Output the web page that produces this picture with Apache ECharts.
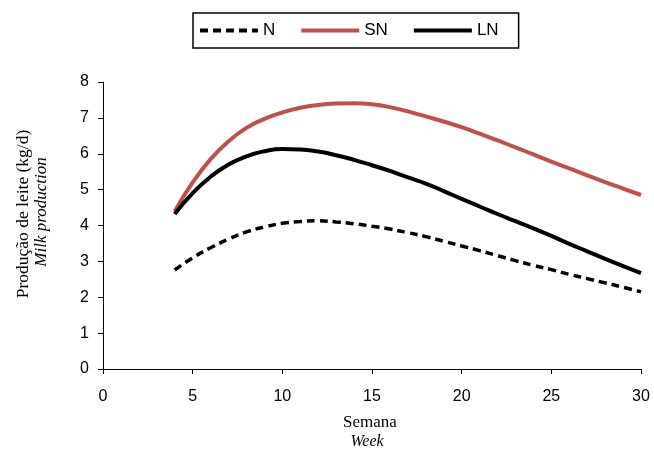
<!DOCTYPE html>
<html><head><meta charset="utf-8">
<script src="https://cdn.jsdelivr.net/npm/echarts@6/dist/echarts.min.js"></script>
<style>html,body{margin:0;padding:0;background:#fff}#c{width:654px;height:449px}</style>
</head><body><div id="c"></div>
<script>
var weeks = [4,5,6,7,8,9,10,11,12,13,14,15,16,17,18,19,20,21,22,23,24,25,26,27,28,29,30];
var nValues  = [2.76,3.1,3.38,3.62,3.82,3.96,4.06,4.11,4.13,4.1,4.05,3.98,3.9,3.8,3.69,3.56,3.43,3.3,3.16,3.02,2.89,2.77,2.64,2.52,2.4,2.28,2.15];
var snValues = [4.4,5.2,5.85,6.35,6.72,6.97,7.15,7.28,7.36,7.4,7.41,7.38,7.3,7.18,7.04,6.9,6.74,6.56,6.37,6.18,5.98,5.78,5.59,5.4,5.21,5.03,4.85];
var lnValues = [4.32,4.9,5.36,5.7,5.93,6.07,6.13,6.12,6.06,5.96,5.83,5.68,5.52,5.34,5.17,4.96,4.74,4.53,4.32,4.12,3.92,3.71,3.49,3.28,3.07,2.87,2.67];
var seriesNames = ['N','SN','LN'];
var xTicks = [0,5,10,15,20,25,30];
var yTicks = [0,1,2,3,4,5,6,7,8];

function pairs(v){ return weeks.map(function(w,i){ return [w, v[i]]; }); }

var chart = echarts.init(document.getElementById('c'));
var sansFont = '"Liberation Sans", Arial, sans-serif';
var serifFont = '"Liberation Serif", "Times New Roman", serif';
chart.setOption({
  animation: false,
  backgroundColor: '#fff',
  grid: { left: 103, right: 13, top: 82, bottom: 80 },
  legend: {
    data: seriesNames,
    top: 13, left: 193,
    itemWidth: 58, itemHeight: 12, itemGap: 24,
    borderColor: '#000', borderWidth: 1.5, borderRadius: 0,
    padding: [9, 20, 9, 5],
    itemStyle: { opacity: 0 },
    lineStyle: { width: 4 },
    textStyle: { fontFamily: sansFont, fontSize: 17, color: '#000' }
  },
  xAxis: {
    type: 'value', min: 0, max: 30, interval: 5,
    axisLine: { lineStyle: { color: '#000', width: 1 } },
    axisTick: { show: true, length: 5, lineStyle: { color: '#000' } },
    axisLabel: { fontFamily: sansFont, fontSize: 16, color: '#000', margin: 20 },
    splitLine: { show: false }
  },
  yAxis: {
    type: 'value', min: 0, max: 8, interval: 1,
    axisLine: { show: true, lineStyle: { color: '#000', width: 1 } },
    axisTick: { show: true, length: 5, lineStyle: { color: '#000' } },
    axisLabel: { fontFamily: sansFont, fontSize: 16, color: '#000', margin: 14 },
    splitLine: { show: false }
  },
  graphic: [
    { type: 'text', x: 23, y: 214, rotation: Math.PI/2, style: { text: 'Produção de leite (kg/d)', font: '17.5px ' + serifFont, fill: '#000', align: 'center', verticalAlign: 'middle' } },
    { type: 'text', x: 42, y: 212, rotation: Math.PI/2, style: { text: 'Milk production', font: 'italic 17px ' + serifFont, fill: '#000', align: 'center', verticalAlign: 'middle' } },
    { type: 'text', x: 370, y: 423, style: { text: 'Semana', font: '17px ' + serifFont, fill: '#000', align: 'center', verticalAlign: 'middle' } },
    { type: 'text', x: 367, y: 442, style: { text: 'Week', font: 'italic 16px ' + serifFont, fill: '#000', align: 'center', verticalAlign: 'middle' } }
  ],
  series: [
    { name: 'N', type: 'line', smooth: true, symbol: 'none', data: pairs(nValues),
      lineStyle: { color: '#000', width: 3.5, type: [8, 5] }, itemStyle: { color: '#000' } },
    { name: 'SN', type: 'line', smooth: true, symbol: 'none', data: pairs(snValues),
      lineStyle: { color: '#c0504d', width: 4 }, itemStyle: { color: '#c0504d' } },
    { name: 'LN', type: 'line', smooth: true, symbol: 'none', data: pairs(lnValues),
      lineStyle: { color: '#000', width: 4 }, itemStyle: { color: '#000' } }
  ]
});
</script></body></html>
